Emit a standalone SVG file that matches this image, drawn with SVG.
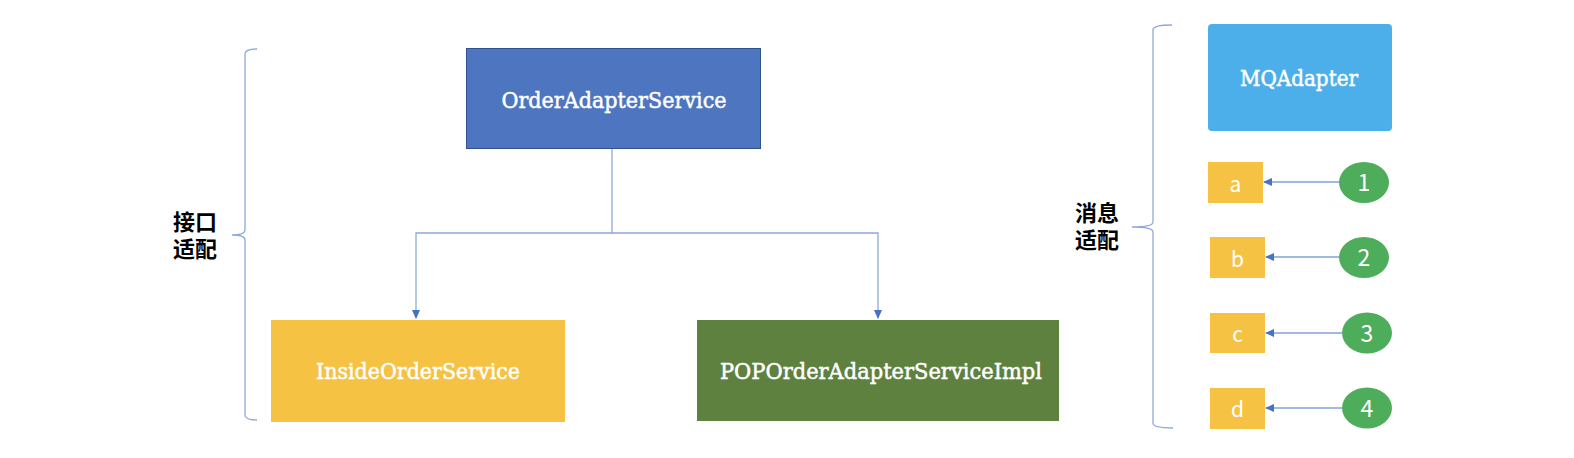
<svg xmlns="http://www.w3.org/2000/svg" width="1574" height="458" viewBox="0 0 1574 458">
<style>
.serif{font-family:"DejaVu Serif","Liberation Serif",serif;font-size:22px;fill:#fff;stroke:#fff;stroke-width:0.5;text-anchor:middle}
.sans{font-family:"Noto Sans CJK SC","DejaVu Sans",sans-serif;font-size:21px;fill:#fff;text-anchor:middle}
.num{font-family:"Noto Sans CJK SC","DejaVu Sans",sans-serif;font-size:23px;fill:#fff;text-anchor:middle}
.cjk{font-family:"Noto Sans CJK SC",sans-serif;font-size:22px;font-weight:bold;fill:#000}
.brace{fill:none;stroke:#8EA9DB;stroke-width:1.3}
.tree{fill:none;stroke:#8EA9DB;stroke-width:1.3}
.msg{fill:none;stroke:#4472C4;stroke-width:1.2}
.small{fill:#F5C243}
.circ{fill:#4EAD5B}
</style>
<defs>
<marker id="ah" markerWidth="10" markerHeight="10" refX="8" refY="5" orient="auto" markerUnits="userSpaceOnUse">
<path d="M0,1 L9,5 L0,9 Z" fill="#4472C4"/>
</marker>
</defs>
<rect width="1574" height="458" fill="#fff"/>
<g id="brace-left">
<path class="brace" d="M257,49 Q245,49 245,54 L245,230 Q245,235 232,235 Q245,235 245,240 L245,415 Q245,420 257,420"/>
<text class="cjk" x="173" y="230">接口<tspan x="173" dy="27">适配</tspan></text>
</g>
<g id="brace-right">
<path class="brace" d="M1172,25 Q1153,25 1153,30 L1153,222 Q1153,227 1132,227 Q1153,227 1153,232 L1153,423 Q1153,428 1173,428"/>
<text class="cjk" x="1075" y="221">消息<tspan x="1075" dy="27">适配</tspan></text>
</g>
<g id="connectors">
<path class="tree" d="M612,148 L612,233 L416,233 L416,318" marker-end="url(#ah)"/>
<path class="tree" d="M612,233 L878,233 L878,318" marker-end="url(#ah)"/>
<line class="msg" x1="1339" y1="182" x2="1264" y2="182" marker-end="url(#ah)"/>
<line class="msg" x1="1339" y1="257" x2="1266" y2="257" marker-end="url(#ah)"/>
<line class="msg" x1="1342" y1="333" x2="1266" y2="333" marker-end="url(#ah)"/>
<line class="msg" x1="1342" y1="408" x2="1266" y2="408" marker-end="url(#ah)"/>
</g>
<g id="OrderAdapterService">
<rect x="466.5" y="48.5" width="294" height="100" fill="#4E75BF" stroke="#2F528F" stroke-width="1"/>
<text class="serif" x="614" y="108" textLength="225" lengthAdjust="spacingAndGlyphs">OrderAdapterService</text>
</g>
<g id="InsideOrderService">
<rect x="271" y="320" width="294" height="102" fill="#F5C243"/>
<text class="serif" x="418" y="379" textLength="204" lengthAdjust="spacingAndGlyphs">InsideOrderService</text>
</g>
<g id="POPOrderAdapterServiceImpl">
<rect x="697" y="320" width="362" height="101" fill="#5F813F"/>
<text class="serif" x="881" y="379" textLength="322" lengthAdjust="spacingAndGlyphs">POPOrderAdapterServiceImpl</text>
</g>
<g id="MQAdapter">
<rect x="1208" y="24" width="184" height="107" rx="4" fill="#4DAFEA"/>
<text class="serif" x="1299" y="86" textLength="118" lengthAdjust="spacingAndGlyphs">MQAdapter</text>
</g>
<g id="box-a"><rect class="small" x="1208" y="162" width="55" height="41"/><text class="sans" x="1235.5" y="192">a</text></g>
<g id="box-b"><rect class="small" x="1210" y="237" width="55" height="41"/><text class="sans" x="1237.5" y="267">b</text></g>
<g id="box-c"><rect class="small" x="1210" y="313" width="55" height="40"/><text class="sans" x="1237.5" y="342">c</text></g>
<g id="box-d"><rect class="small" x="1210" y="388" width="55" height="41"/><text class="sans" x="1237.5" y="417">d</text></g>
<g id="circle-1"><ellipse class="circ" cx="1364" cy="182.5" rx="25" ry="20.5"/><text class="num" x="1364" y="191">1</text></g>
<g id="circle-2"><ellipse class="circ" cx="1364" cy="257.5" rx="25" ry="20.5"/><text class="num" x="1364" y="266">2</text></g>
<g id="circle-3"><ellipse class="circ" cx="1367" cy="333" rx="25" ry="20.5"/><text class="num" x="1367" y="341.5">3</text></g>
<g id="circle-4"><ellipse class="circ" cx="1367" cy="408" rx="25" ry="20.5"/><text class="num" x="1367" y="416.5">4</text></g>
</svg>
